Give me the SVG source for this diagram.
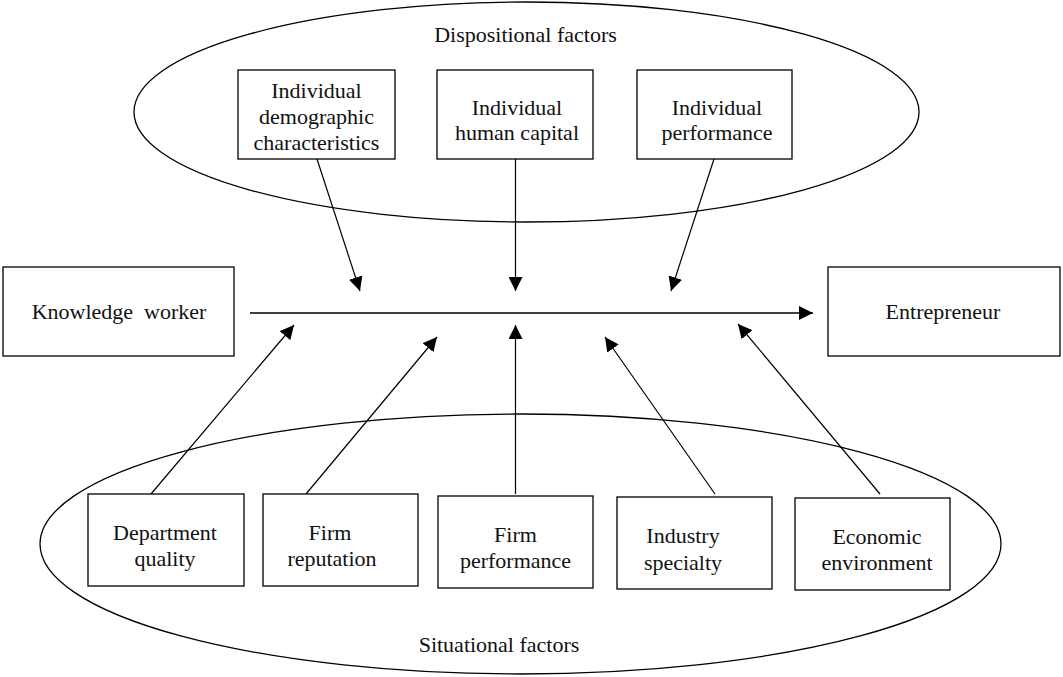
<svg xmlns="http://www.w3.org/2000/svg" width="1063" height="677" viewBox="0 0 1063 677">
<style>
.box{fill:#fff;stroke:#000;stroke-width:1.3}
.ell{fill:none;stroke:#000;stroke-width:1.3}
.t{font-family:"Liberation Serif","Times New Roman",serif;font-size:22px;fill:#111;text-anchor:middle}
.c{stroke:#000;stroke-width:1.2;fill:none;marker-end:url(#ah)}
</style>
<defs>
<marker id="ah" markerUnits="userSpaceOnUse" markerWidth="14" markerHeight="14" refX="14" refY="7" orient="auto">
<path d="M0,0 L14,7 L0,14 z" fill="#000"/>
</marker>
</defs>
<rect width="1063" height="677" fill="#fff"/>
<g id="dispositional">
<ellipse class="ell" cx="526.5" cy="112" rx="392.5" ry="110"/>
<text class="t" x="525.5" y="42">Dispositional factors</text>
</g>
<g id="situational">
<ellipse class="ell" cx="520.5" cy="544" rx="480.5" ry="130"/>
<text class="t" x="499" y="652">Situational factors</text>
</g>
<g id="connectors">
<line class="c" x1="317" y1="159" x2="360" y2="291"/>
<line class="c" x1="515.5" y1="159" x2="515.5" y2="291"/>
<line class="c" x1="714" y1="159" x2="671" y2="291"/>
<line class="c" style="stroke-width:1.6" x1="250" y1="313" x2="813" y2="313"/>
<line class="c" x1="151" y1="494" x2="294" y2="325"/>
<line class="c" x1="306" y1="494" x2="437" y2="337"/>
<line class="c" x1="515.5" y1="494" x2="515.5" y2="325"/>
<line class="c" x1="715" y1="494" x2="605" y2="337"/>
<line class="c" x1="880" y1="494" x2="738" y2="324"/>
</g>
<g id="n-demographic">
<rect class="box" x="238" y="70" width="157" height="89"/>
<text class="t" x="316.5" y="98">Individual</text>
<text class="t" x="316.5" y="124">demographic</text>
<text class="t" x="316.5" y="150">characteristics</text>
</g>
<g id="n-humancapital">
<rect class="box" x="437" y="70" width="156" height="89"/>
<text class="t" x="517" y="115">Individual</text>
<text class="t" x="517" y="140">human capital</text>
</g>
<g id="n-indperformance">
<rect class="box" x="637" y="70" width="155" height="89"/>
<text class="t" x="717" y="115">Individual</text>
<text class="t" x="717" y="140">performance</text>
</g>
<g id="n-knowledgeworker">
<rect class="box" x="3" y="267" width="231" height="89"/>
<text class="t" x="119" y="319" xml:space="preserve">Knowledge  worker</text>
</g>
<g id="n-entrepreneur">
<rect class="box" x="828" y="267" width="232" height="89"/>
<text class="t" x="943" y="319">Entrepreneur</text>
</g>
<g id="n-department">
<rect class="box" x="88" y="494" width="156" height="92"/>
<text class="t" x="165" y="540">Department</text>
<text class="t" x="165" y="566">quality</text>
</g>
<g id="n-firmreputation">
<rect class="box" x="263" y="494" width="155" height="92"/>
<text class="t" x="330" y="540">Firm</text>
<text class="t" x="332" y="566">reputation</text>
</g>
<g id="n-firmperformance">
<rect class="box" x="438" y="496" width="155" height="92"/>
<text class="t" x="515.5" y="542">Firm</text>
<text class="t" x="515.5" y="568">performance</text>
</g>
<g id="n-industry">
<rect class="box" x="617" y="497" width="155" height="92"/>
<text class="t" x="683" y="543">Industry</text>
<text class="t" x="683" y="570">specialty</text>
</g>
<g id="n-economic">
<rect class="box" x="795" y="498" width="155" height="92"/>
<text class="t" x="877" y="544">Economic</text>
<text class="t" x="877" y="570">environment</text>
</g>
</svg>
